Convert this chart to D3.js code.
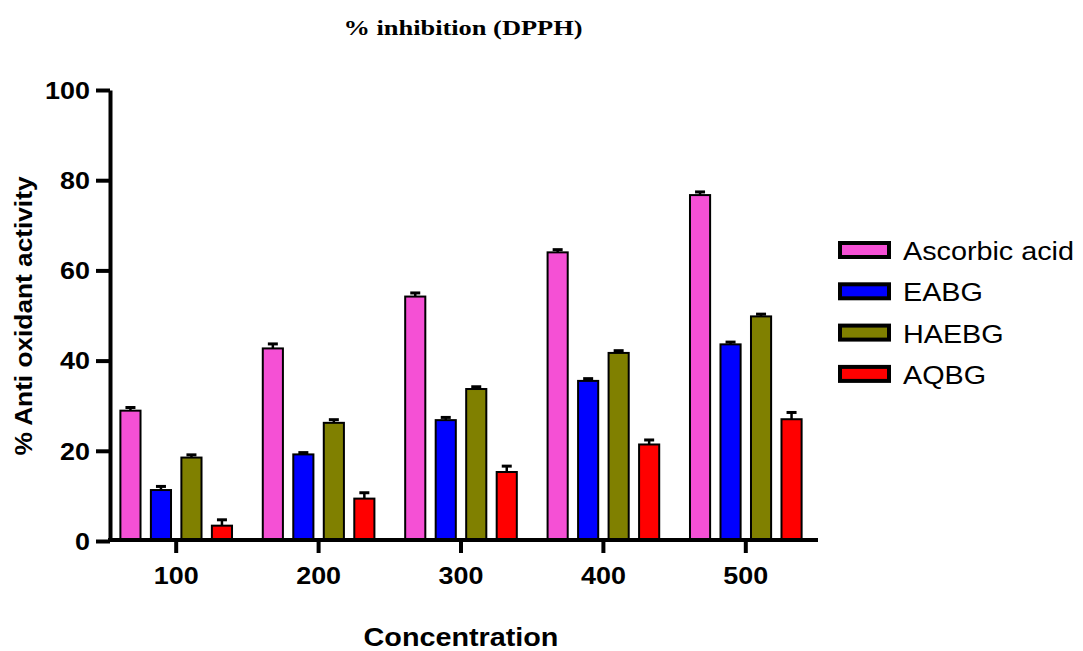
<!DOCTYPE html>
<html>
<head>
  <meta charset="utf-8">
  <title>% inhibition (DPPH)</title>
  <style>
    body { margin: 0; background: #fff; }
    text { font-family: "Liberation Sans", Arial, sans-serif; fill: #000; }
    .bar { stroke: #000; stroke-width: 2px; }
    .err { stroke: #000; }
  </style>
</head>
<body>
  <svg id="chart"></svg>

  <script src="https://d3js.org/d3.v7.min.js"></script>
  <script>
    // data
    const concentrations = ["100", "200", "300", "400", "500"];
    const seriesNames = ["Ascorbic acid", "EABG", "HAEBG", "AQBG"];
    const ascorbic = [28.9, 42.7, 54.2, 64.0, 76.7];
    const eabg = [11.3, 19.2, 26.8, 35.5, 43.6];
    const haebg = [18.5, 26.2, 33.7, 41.7, 49.8];
    const aqbg = [3.4, 9.4, 15.3, 21.4, 27.0];
    const ascorbicErr = [0.7, 1.0, 0.8, 0.6, 0.7];
    const eabgErr = [0.8, 0.4, 0.6, 0.5, 0.5];
    const haebgErr = [0.6, 0.7, 0.5, 0.5, 0.5];
    const aqbgErr = [1.3, 1.3, 1.3, 1.0, 1.5];
    const yTicks = [0, 20, 40, 60, 80, 100];

    const colors = ["#f550d5", "#0000ff", "#808000", "#ff0000"];
    const values = [ascorbic, eabg, haebg, aqbg];
    const errors = [ascorbicErr, eabgErr, haebgErr, aqbgErr];

    const W = 1083, H = 651;
    const svg = d3.select("#chart").attr("width", W).attr("height", H);

    // the picture is stretched sideways a bit, so stretch the text too
    function stretch(sel, f) {
      sel.each(function () {
        const w = this.getComputedTextLength();
        this.setAttribute("textLength", w * f);
        this.setAttribute("lengthAdjust", "spacingAndGlyphs");
      });
    }

    const x = d3.scaleBand().domain(concentrations).range([105, 817]);
    const xs = d3.scaleBand().domain(seriesNames).range([-61, 61])
      .paddingInner(0.34).paddingOuter(0.17);
    const y = d3.scaleLinear().domain([0, 100]).range([541, 90]);

    const rows = [];
    concentrations.forEach((c, i) => {
      seriesNames.forEach((s, j) => {
        rows.push({ c, s, j, v: values[j][i], e: errors[j][i] });
      });
    });

    const cx = d => x(d.c) + x.bandwidth() / 2 + xs(d.s);

    // bars
    svg.append("g").selectAll("rect")
      .data(rows)
      .enter()
      .append("rect")
      .attr("class", "bar")
      .attr("x", cx)
      .attr("width", xs.bandwidth())
      .attr("y", d => y(d.v))
      .attr("height", d => y(0) - y(d.v))
      .attr("fill", d => colors[d.j]);

    // error bars (upper half only)
    const eg = svg.append("g");
    eg.selectAll("line.stem")
      .data(rows)
      .enter()
      .append("line")
      .attr("class", "err stem")
      .attr("x1", d => cx(d) + xs.bandwidth() / 2)
      .attr("x2", d => cx(d) + xs.bandwidth() / 2)
      .attr("y1", d => y(d.v))
      .attr("y2", d => y(d.v + d.e))
      .attr("stroke-width", 2.5);
    eg.selectAll("line.cap")
      .data(rows)
      .enter()
      .append("line")
      .attr("class", "err cap")
      .attr("x1", d => cx(d) + xs.bandwidth() / 2 - 5)
      .attr("x2", d => cx(d) + xs.bandwidth() / 2 + 5)
      .attr("y1", d => y(d.v + d.e))
      .attr("y2", d => y(d.v + d.e))
      .attr("stroke-width", 3);

    // y axis
    const gy = svg.append("g")
      .attr("transform", "translate(110,0)")
      .call(d3.axisLeft(y).tickValues(yTicks).tickSize(14).tickSizeOuter(0).tickPadding(6));
    gy.select(".domain").attr("stroke-width", 4);
    gy.selectAll(".tick line").attr("stroke-width", 4);
    gy.selectAll(".tick text")
      .style("font-family", "'Liberation Sans', Arial, sans-serif")
      .style("font-size", "23px")
      .style("font-weight", "bold")
      .attr("dy", "0.36em");

    // x axis
    const gx = svg.append("g")
      .attr("transform", "translate(0,540)")
      .call(d3.axisBottom(x).tickSize(13).tickSizeOuter(0).tickPadding(15));
    gx.select(".domain").remove();
    gx.selectAll(".tick line").attr("stroke-width", 4);
    gx.selectAll(".tick text")
      .style("font-family", "'Liberation Sans', Arial, sans-serif")
      .style("font-size", "23px")
      .style("font-weight", "bold");
    svg.append("line")
      .attr("x1", 108).attr("x2", 818)
      .attr("y1", 540).attr("y2", 540)
      .attr("stroke", "#000").attr("stroke-width", 4);

    stretch(gy.selectAll(".tick text"), 1.17);
    stretch(gx.selectAll(".tick text"), 1.17);

    // title
    const title = svg.append("text")
      .attr("x", 463).attr("y", 35)
      .attr("text-anchor", "middle")
      .style("font-family", "'Liberation Serif', 'Times New Roman', serif")
      .style("font-weight", "bold")
      .style("font-size", "20px")
      .text("% inhibition (DPPH)");
    stretch(title, 1.32);

    // axis titles
    const xt = svg.append("text")
      .attr("x", 461).attr("y", 646)
      .attr("text-anchor", "middle")
      .style("font-weight", "bold")
      .style("font-size", "25px")
      .text("Concentration");
    stretch(xt, 1.15);

    svg.append("text")
      .attr("transform", "translate(32,316) rotate(-90)")
      .attr("text-anchor", "middle")
      .style("font-weight", "bold")
      .style("font-size", "23px")
      .attr("textLength", 279)
      .attr("lengthAdjust", "spacingAndGlyphs")
      .text("% Anti oxidant activity");

    // legend
    const lg = svg.append("g").selectAll("g")
      .data(seriesNames)
      .enter()
      .append("g")
      .attr("transform", (d, i) => `translate(840,${243 + i * 41.3})`);
    lg.append("rect")
      .attr("width", 49).attr("height", 14)
      .attr("fill", (d, i) => colors[i])
      .attr("stroke", "#000").attr("stroke-width", 4);
    const lt = lg.append("text")
      .attr("x", 63).attr("y", 17)
      .style("font-size", "25px")
      .text(d => d);
    stretch(lt, 1.15);
  </script>
</body>
</html>
